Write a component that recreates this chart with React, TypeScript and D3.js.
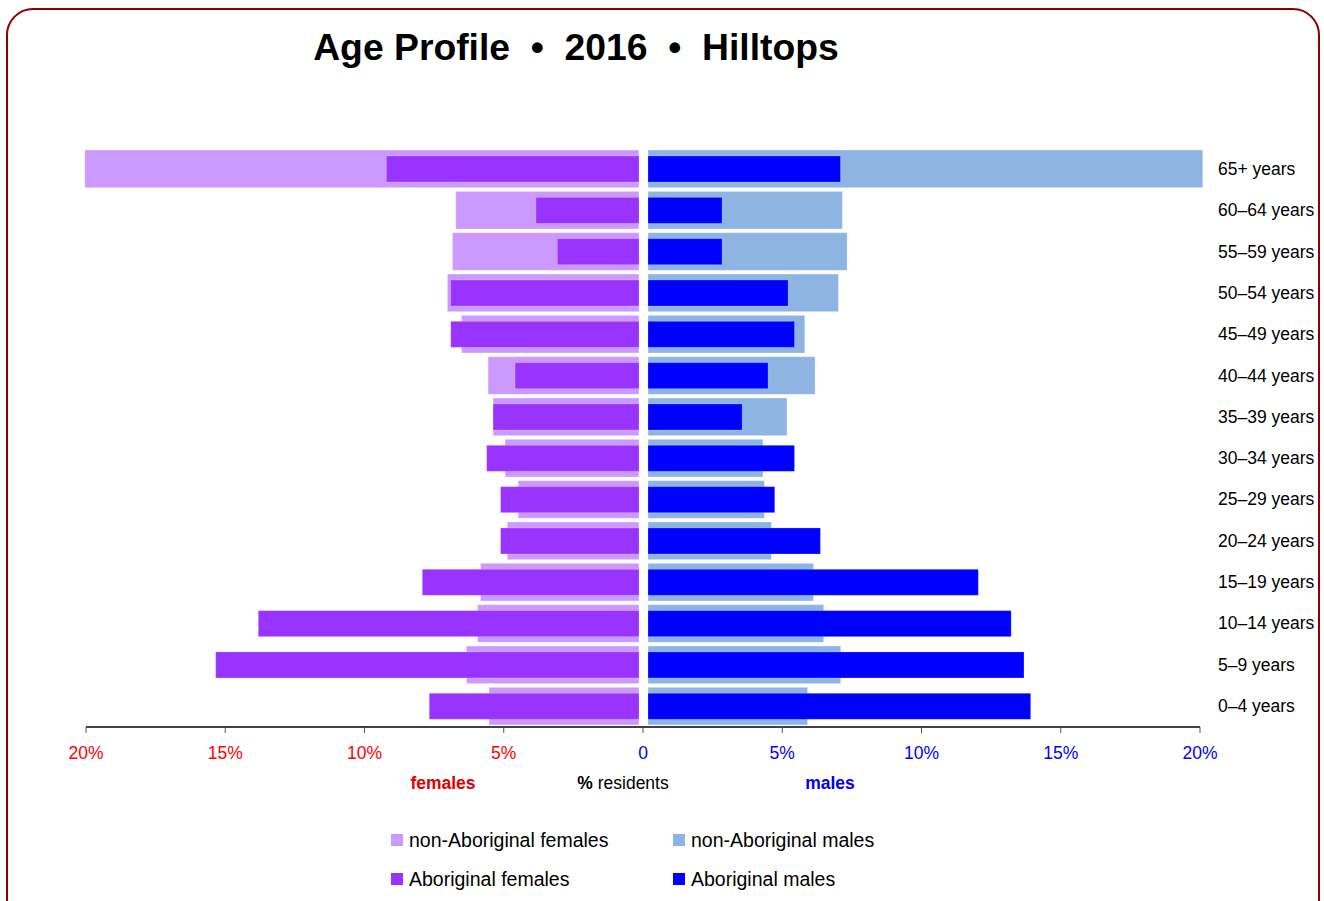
import React from "react";
import * as d3 from "d3";

const ageGroups = ["65+ years","60–64 years","55–59 years","50–54 years","45–49 years","40–44 years","35–39 years","30–34 years","25–29 years","20–24 years","15–19 years","10–14 years","5–9 years","0–4 years"];
const nonAborFemales = [19.9,6.58,6.70,6.88,6.37,5.42,5.24,4.81,4.34,4.73,5.69,5.80,6.20,5.39];
const aborFemales = [9.07,3.70,2.93,6.76,6.76,4.45,5.24,5.47,4.97,4.97,7.78,13.67,15.20,7.53];
const nonAborMales = [19.92,6.98,7.15,6.84,5.63,6.00,4.99,4.13,4.18,4.43,5.94,6.31,6.92,5.73];
const aborMales = [6.91,2.66,2.66,5.03,5.26,4.31,3.38,5.26,4.55,6.19,11.86,13.04,13.50,13.74];
const tickValues = [-20,-15,-10,-5,0,5,10,15,20];

const C = { nfem: "#CC99FF", afem: "#9933FF", nmal: "#8DB4E2", amal: "#0000FF" };
const FONT = "'Liberation Sans', Arial, sans-serif";

export default function App() {
  const W = 1324, H = 901;
  const axisY = 727;
  const axis = d3.scaleLinear().domain([-20, 20]).range([86, 1200]);
  const fx = d3.scaleLinear().domain([0, 20]).range([639, 639 - 20 * 27.85]);
  const mx = d3.scaleLinear().domain([0, 20]).range([648, 648 + 20 * 27.85]);
  const y = d3.scaleBand().domain(ageGroups).range([148.2, 726.8]).paddingInner(0.088).paddingOuter(0.044);
  const bw = y.bandwidth();
  const innerOff = 6, innerH = 26;

  return (
    <svg width={W} height={H} style={{ position: "absolute", left: 0, top: 0, background: "#fff" }} fontFamily={FONT}>
      <rect x={7} y={9} width={1312} height={920} rx={26} ry={26} fill="#fff" stroke="#8B0000" strokeWidth={2} />
      <text x={576} y={60} textAnchor="middle" fontWeight="bold" fontSize={37.3} fill="#000" style={{ whiteSpace: "pre" }}>
        {"Age Profile  \u2022  2016  \u2022  Hilltops"}
      </text>
      {ageGroups.map((g, i) => {
        const y0 = y(g)!;
        return (
          <g key={g}>
            <rect x={fx(nonAborFemales[i])} y={y0} width={fx(0) - fx(nonAborFemales[i])} height={bw} fill={C.nfem} stroke="#fff" strokeOpacity={0.35} />
            <rect x={mx(0)} y={y0} width={mx(nonAborMales[i]) - mx(0)} height={bw} fill={C.nmal} stroke="#fff" strokeOpacity={0.35} />
            <rect x={fx(aborFemales[i])} y={y0 + innerOff} width={fx(0) - fx(aborFemales[i])} height={innerH} fill={C.afem} stroke="#fff" strokeOpacity={0.2} />
            <rect x={mx(0)} y={y0 + innerOff} width={mx(aborMales[i]) - mx(0)} height={innerH} fill={C.amal} stroke="#fff" strokeOpacity={0.2} />
            <text x={1218} y={y0 + bw / 2 + 6} fontSize={17.5} fill="#000">{g}</text>
          </g>
        );
      })}
      <line x1={axis(-20)} x2={axis(20)} y1={axisY} y2={axisY} stroke="#000" strokeWidth={1.5} />
      {tickValues.map((t) => (
        <g key={t}>
          <line x1={axis(t)} x2={axis(t)} y1={axisY} y2={axisY + 6} stroke="#555" strokeWidth={1} />
          <text x={axis(t)} y={759} textAnchor="middle" fontSize={17.5} fill={t < 0 ? "#FF0000" : "#0000FF"}>
            {t === 0 ? "0" : `${Math.abs(t)}%`}
          </text>
        </g>
      ))}
      <text x={443} y={789} textAnchor="middle" fontSize={17.5} fontWeight="bold" fill="#E00000">females</text>
      <text x={623} y={789} textAnchor="middle" fontSize={17.5} fill="#000">
        <tspan fontWeight="bold">%</tspan> residents
      </text>
      <text x={830} y={789} textAnchor="middle" fontSize={17.5} fontWeight="bold" fill="#0000FF">males</text>
      {[
        { label: "non-Aboriginal females", color: C.nfem, x: 391, yy: 840 },
        { label: "non-Aboriginal males", color: C.nmal, x: 673, yy: 840 },
        { label: "Aboriginal females", color: C.afem, x: 391, yy: 879 },
        { label: "Aboriginal males", color: C.amal, x: 673, yy: 879 },
      ].map((l) => (
        <g key={l.label}>
          <rect x={l.x} y={l.yy - 6} width={12} height={12} fill={l.color} />
          <text x={l.x + 18} y={l.yy + 7} fontSize={19.5} fill="#000">{l.label}</text>
        </g>
      ))}
    </svg>
  );
}
